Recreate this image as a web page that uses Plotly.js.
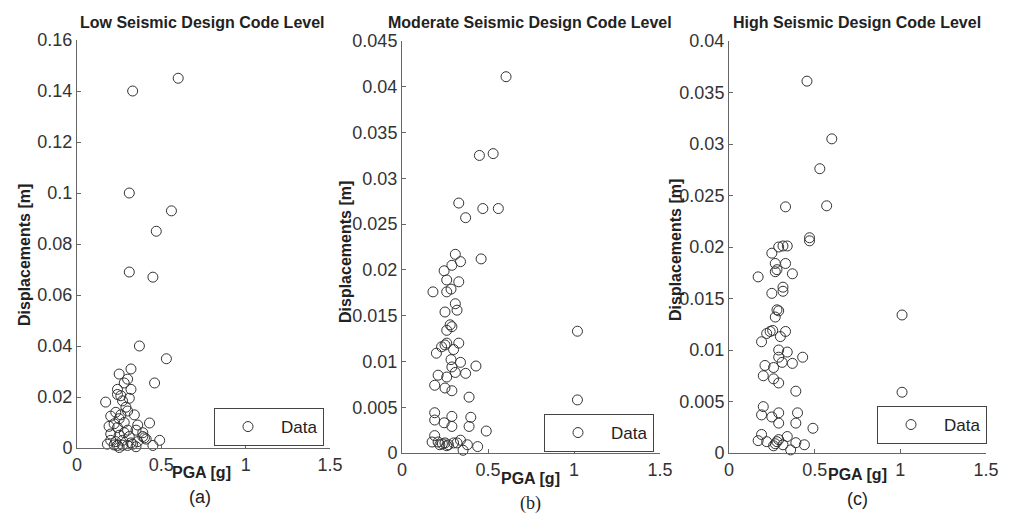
<!DOCTYPE html>
<html>
<head>
<meta charset="utf-8">
<script src="https://cdn.plot.ly/plotly-3.0.1.min.js"></script>
<style>html,body{margin:0;padding:0;background:#fff;}#chart{width:1009px;height:522px;}</style>
</head>
<body>
<div id="chart"></div>
<script>
// ---- Data ----
const panelTitles = ["Low Seismic Design Code Level", "Moderate Seismic Design Code Level", "High Seismic Design Code Level"];
const panelLabels = ["(a)", "(b)", "(c)"];
const xTitle = "PGA [g]";
const yTitle = "Displacements [m]";
const legendName = "Data";

const pgaLow = [0.33,0.60,0.31,0.56,0.47,0.31,0.45,0.37,0.53,0.46,0.32,0.25,0.17,
  0.30,0.28,0.32,0.24,0.24,0.31,0.27,0.20,0.23,0.30,0.34,0.25,0.28,0.36,0.43,0.19,
  0.24,0.30,0.35,0.39,0.20,0.25,0.31,0.39,0.40,0.49,0.18,0.22,0.24,0.27,0.30,0.33,
  0.35,0.45,0.20,0.27,0.23,0.32,0.25,0.26,0.29,0.22,0.28,0.36,0.41,0.26];
const dispLow = [0.140,0.145,0.100,0.093,0.085,0.069,0.067,0.040,0.035,0.0255,0.031,0.029,0.018,
  0.027,0.0255,0.023,0.023,0.021,0.0195,0.0185,0.0125,0.014,0.0145,0.013,0.0115,0.010,0.009,0.0098,0.0085,
  0.008,0.007,0.007,0.006,0.0055,0.005,0.0045,0.0045,0.004,0.003,0.0015,0.0012,0.001,0.0011,0.001,0.0015,
  0.0005,0.001,0.003,0.003,0.0025,0.002,0.0002,0.013,0.016,0.0095,0.006,0.0025,0.0035,0.0205];

const pgaMod = [0.605,0.45,0.53,0.33,0.37,0.47,0.56,0.31,0.46,
  0.245,0.29,0.34,0.26,0.33,0.18,0.26,0.285,0.31,0.25,0.32,0.28,0.26,0.29,0.20,0.23,0.25,0.26,0.33,0.30,
  0.285,0.34,0.43,0.29,0.31,0.37,0.21,0.26,0.19,0.25,0.29,0.39,0.19,0.19,0.245,0.29,0.29,0.40,0.39,0.49,
  0.19,0.175,0.21,0.25,0.27,0.26,0.30,0.32,0.34,0.38,0.44,0.355,0.22,0.235,1.02,1.02];
const dispMod = [0.0411,0.0325,0.0327,0.0273,0.0257,0.0267,0.0267,0.0217,0.0212,
  0.0199,0.0205,0.0209,0.0189,0.0187,0.0176,0.0176,0.0179,0.0163,0.0154,0.0156,0.0140,0.0134,0.0138,0.0109,0.0116,0.0118,0.0120,0.0120,0.0113,
  0.0102,0.0099,0.0095,0.0094,0.0088,0.0087,0.0085,0.0083,0.0074,0.0071,0.0068,0.0061,0.0044,0.0036,0.0033,0.0040,0.0029,0.0039,0.0029,0.0024,
  0.0019,0.0012,0.0012,0.0011,0.0009,0.0008,0.0011,0.0011,0.0014,0.0009,0.0007,0.0003,0.0009,0.0010,0.0133,0.0058];

const pgaHigh = [0.455,0.60,0.53,0.57,0.33,0.47,0.47,0.25,0.29,0.315,0.34,
  0.27,0.33,0.17,0.27,0.28,0.37,0.25,0.315,0.315,0.27,0.28,0.29,0.19,0.22,0.24,0.255,0.33,0.30,
  0.29,0.34,0.43,0.29,0.31,0.37,0.21,0.26,0.20,0.26,0.29,0.39,0.20,0.19,0.25,0.29,0.29,0.40,0.39,0.49,
  0.19,0.17,0.22,0.27,0.26,0.29,0.315,0.34,0.39,0.44,0.36,0.28,1.01,1.01];
const dispHigh = [0.0361,0.0305,0.0276,0.0240,0.0239,0.0209,0.0206,0.0194,0.0200,0.0201,0.0201,
  0.0184,0.0184,0.0171,0.0176,0.0178,0.0174,0.0155,0.0157,0.0161,0.0132,0.0139,0.0138,0.0108,0.0116,0.0118,0.0119,0.0118,0.0113,
  0.0100,0.0098,0.0093,0.0093,0.0088,0.0087,0.0085,0.0083,0.0075,0.0072,0.0068,0.0060,0.0045,0.0037,0.0035,0.0039,0.0029,0.0039,0.0029,0.0024,
  0.0018,0.0012,0.0011,0.0009,0.0007,0.0013,0.0008,0.0016,0.0010,0.0008,0.0003,0.0011,0.0134,0.0059];

const xTicks = [0, 0.5, 1, 1.5];
const yTicksLow = [0,0.02,0.04,0.06,0.08,0.1,0.12,0.14,0.16];
const yTicksMod = [0,0.005,0.01,0.015,0.02,0.025,0.03,0.035,0.04,0.045];
const yTicksHigh = [0,0.005,0.01,0.015,0.02,0.025,0.03,0.035,0.04];

// ---- Figure ----
const W = 1009, H = 522;
const px = v => v / W;
const py = v => 1 - v / H;
const FONT = "Liberation Sans, Arial, sans-serif";
const ink = "#333";

const series = [[pgaLow, dispLow], [pgaMod, dispMod], [pgaHigh, dispHigh]];
const traces = series.map((s, i) => ({
  type: "scatter", mode: "markers",
  x: s[0], y: s[1], name: legendName,
  xaxis: i === 0 ? "x" : "x" + (i + 1),
  yaxis: i === 0 ? "y" : "y" + (i + 1),
  legend: i === 0 ? "legend" : "legend" + (i + 1),
  cliponaxis: false,
  marker: {symbol: "circle-open", size: 10, color: ink, line: {width: 1, color: ink}},
  showlegend: true
}));

// plot-area pixel boxes [left, right, top, bottom]
const boxes = [[77, 330, 40, 448], [402, 660, 41, 453], [729, 986, 41, 453]];
const yTickSets = [yTicksLow, yTicksMod, yTicksHigh];
const yRanges = [[0, 0.16], [0, 0.045], [0, 0.04]];

function axisBase() {
  return {
    showline: true, linecolor: "#666", linewidth: 1,
    ticks: "inside", ticklen: 4, tickcolor: "#666", tickwidth: 1,
    showgrid: false, zeroline: false, mirror: false,
    tickfont: {family: FONT, size: 18, color: ink}
  };
}

const layout = {
  width: W, height: H,
  margin: {l: 0, r: 0, t: 0, b: 0},
  paper_bgcolor: "#fff", plot_bgcolor: "#fff",
  font: {family: FONT, color: ink},
  annotations: [], shapes: []
};

boxes.forEach((b, i) => {
  const sfx = i === 0 ? "" : String(i + 1);
  layout["xaxis" + sfx] = Object.assign(axisBase(), {
    domain: [px(b[0]), px(b[1])], range: [0, 1.5],
    tickmode: "array", tickvals: xTicks, ticktext: xTicks.map(String),
    anchor: "y" + sfx
  });
  layout["yaxis" + sfx] = Object.assign(axisBase(), {
    domain: [py(b[3]), py(b[2])], range: yRanges[i],
    tickmode: "array", tickvals: yTickSets[i], ticktext: yTickSets[i].map(String),
    anchor: "x" + sfx
  });
});

// legends
const legendBoxes = [[214, 408], [544, 414], [877, 406]];
legendBoxes.forEach((lb, i) => {
  const key = i === 0 ? "legend" : "legend" + (i + 1);
  layout[key] = {
    x: px(lb[0]), y: py(lb[1]), xanchor: "left", yanchor: "top",
    bgcolor: "#fff", bordercolor: "#444", borderwidth: 1,
    itemwidth: 56, font: {family: FONT, size: 17, color: "#222"},
    tracegroupgap: 0
  };
});

// panel titles
const titleCenters = [202, 530, 857];
titleCenters.forEach((cx, i) => {
  layout.annotations.push({
    text: panelTitles[i], xref: "paper", yref: "paper",
    x: px(cx), y: py(22), xanchor: "center", yanchor: "middle", showarrow: false,
    font: {family: FONT, size: 16, color: "#222", weight: "bold"}
  });
});

// axis titles
const xTitlePos = [[201, 472], [530, 478], [857, 474]];
xTitlePos.forEach((p, i) => {
  layout.annotations.push({
    text: xTitle, xref: "paper", yref: "paper",
    x: px(p[0]), y: py(p[1]), xanchor: "center", yanchor: "middle", showarrow: false,
    font: {family: FONT, size: 16, color: "#222", weight: "bold"}
  });
});
const yTitlePos = [[24, 255], [345, 252], [675, 250]];
yTitlePos.forEach((p, i) => {
  layout.annotations.push({
    text: yTitle, xref: "paper", yref: "paper", textangle: -90,
    x: px(p[0]), y: py(p[1]), xanchor: "center", yanchor: "middle", showarrow: false,
    font: {family: FONT, size: 16, color: "#222", weight: "bold"}
  });
});

// sub-figure labels
const labelPos = [[200, 497, FONT], [530, 503, "Liberation Serif, Times New Roman, serif"], [857, 499, FONT]];
labelPos.forEach((p, i) => {
  layout.annotations.push({
    text: panelLabels[i], xref: "paper", yref: "paper",
    x: px(p[0]), y: py(p[1]), xanchor: "center", yanchor: "middle", showarrow: false,
    font: {family: p[2], size: 18, color: "#222"}
  });
});

Plotly.newPlot("chart", traces, layout, {staticPlot: true, displayModeBar: false});
</script>
</body>
</html>
